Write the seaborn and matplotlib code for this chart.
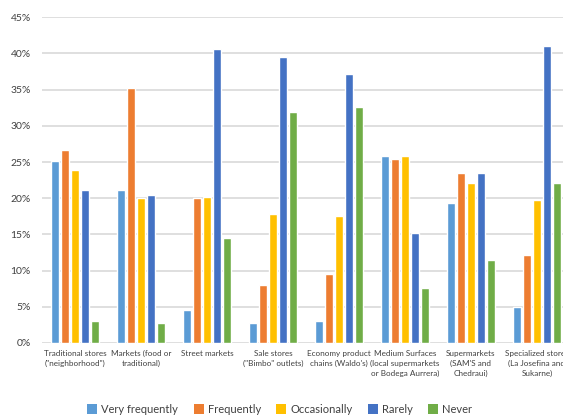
import matplotlib
matplotlib.use("Agg")
import matplotlib.pyplot as plt
from matplotlib.patches import Patch
from matplotlib.ticker import MultipleLocator, FuncFormatter
import seaborn as sns
import pandas as pd

stores = [
    "Traditional stores\n(\"neighborhood\")",
    "Markets (food or\ntraditional)",
    "Street markets",
    "Sale stores\n(\"Bimbo\" outlets)",
    "Economy product\nchains (Waldo's)",
    "Medium Surfaces\n(local supermarkets\nor Bodega Aurrera)",
    "Supermarkets\n(SAM'S and\nChedraui)",
    "Specialized stores\n(La Josefina and\nSukarne)",
]
frequencies = ["Very frequently", "Frequently", "Occasionally", "Rarely", "Never"]

very_frequently = [25.1, 21.2, 4.6, 2.7, 3.0, 25.9, 19.4, 5.0]
frequently = [26.6, 35.3, 20.1, 8.0, 9.5, 25.4, 23.5, 12.1]
occasionally = [23.9, 20.1, 20.2, 17.8, 17.5, 25.9, 22.1, 19.8]
rarely = [21.2, 20.5, 40.6, 39.5, 37.2, 15.2, 23.5, 41.0]
never = [3.0, 2.7, 14.5, 31.9, 32.6, 7.6, 11.4, 22.1]

colors = ["#5B9BD5", "#ED7D31", "#FFC000", "#4472C4", "#70AD47"]

series = [very_frequently, frequently, occasionally, rarely, never]
rows = []
for freq, vals in zip(frequencies, series):
    for store, v in zip(stores, vals):
        rows.append({"store": store, "frequency": freq, "pct": v})
df = pd.DataFrame(rows)

sns.set_style("white")
plt.rcParams["font.family"] = ["Lato", "DejaVu Sans"]

fig = plt.figure(figsize=(5.63, 4.16), dpi=100)
ax = fig.add_axes([42 / 563, 73 / 416, 528 / 563, 325.7 / 416])

sns.barplot(data=df, x="store", y="pct", hue="frequency", order=stores,
            hue_order=frequencies, palette=colors, width=0.76, gap=0.18,
            ax=ax, legend=False, saturation=1)

ax.set_ylim(0, 45)
ax.set_xlim(-0.5, len(stores) - 0.5)
ax.yaxis.set_major_locator(MultipleLocator(5))
ax.yaxis.set_major_formatter(FuncFormatter(lambda v, _: f"{v:.0f}%"))
ax.grid(axis="y", color="#d9d9d9", linewidth=1.2)
ax.set_axisbelow(True)
for s in ax.spines.values():
    s.set_visible(False)
ax.set_xlabel("")
ax.set_ylabel("")
ax.tick_params(axis="y", labelsize=7.5, colors="#404040", length=0, pad=8)
ax.tick_params(axis="x", labelsize=5.9, colors="#404040", length=0, pad=5)
for lbl in ax.get_xticklabels():
    lbl.set_linespacing(1.45)

handles = [Patch(facecolor=c, edgecolor="none") for c in colors]
fig.legend(handles, frequencies, loc="center", bbox_to_anchor=(0.497, 0.016),
           ncol=5, frameon=False, fontsize=8, handlelength=0.9, handleheight=0.9,
           handletextpad=0.35, columnspacing=1.4, labelcolor="#404040")

fig.savefig("out.png", dpi=100)
